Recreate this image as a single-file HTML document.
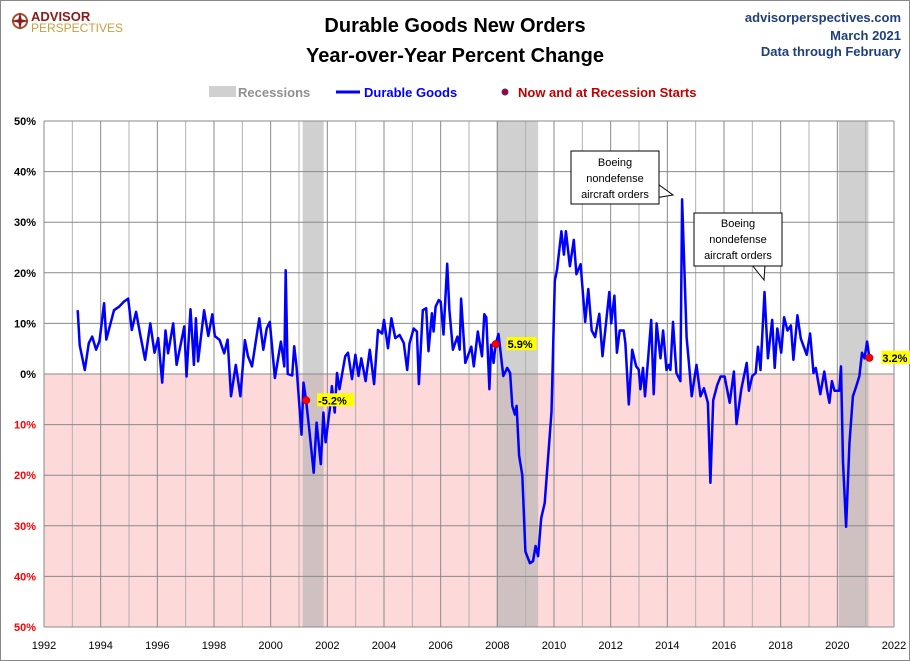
<!DOCTYPE html>
<html><head><meta charset="utf-8"><style>
body{margin:0;background:#fff;}
svg{display:block;font-family:"Liberation Sans",sans-serif;}
</style></head><body>
<svg id="chart" width="910" height="661" viewBox="0 0 910 661">
<rect x="0.5" y="0.5" width="909" height="660" fill="#fff" stroke="#888"/>
<g>
<circle cx="20" cy="21" r="7" fill="none" stroke="#a0522d" stroke-width="2"/>
<path d="M20 12 L22 21 L20 30 L18 21Z M11 21 L20 19 L29 21 L20 23Z" fill="#8b1a1a"/>
<text x="31" y="21" font-size="13" font-weight="bold" fill="#8b1a1a">ADVISOR</text>
<text x="31" y="32" font-size="12" fill="#c8a040">PERSPECTIVES</text>
</g>
<text x="455" y="32" text-anchor="middle" font-size="20" font-weight="bold" fill="#000">Durable Goods New Orders</text>
<text x="455" y="62" text-anchor="middle" font-size="20" font-weight="bold" fill="#000">Year-over-Year Percent Change</text>
<text x="901" y="22" text-anchor="end" font-size="13" font-weight="bold" fill="#1f3f7a">advisorperspectives.com</text>
<text x="901" y="40" text-anchor="end" font-size="13" font-weight="bold" fill="#1f3f7a">March 2021</text>
<text x="901" y="56" text-anchor="end" font-size="13" font-weight="bold" fill="#1f3f7a">Data through February</text>
<g>
<rect x="209" y="86" width="27" height="11" fill="#d0d0d0"/>
<text x="238" y="97" font-size="13" font-weight="bold" fill="#909090">Recessions</text>
<line x1="336" y1="92" x2="360" y2="92" stroke="#0000ff" stroke-width="3"/>
<text x="364" y="97" font-size="13" font-weight="bold" fill="#0000ff">Durable Goods</text>
<circle cx="505" cy="92" r="3" fill="#c00000" stroke="#3030c0"/>
<text x="518" y="97" font-size="13" font-weight="bold" fill="#c00000">Now and at Recession Starts</text>
</g>
<g id="plot"></g>
</svg>
<script>
const recStart=[2001.13,2007.97,2020.05];
const recEnd=[2001.87,2009.44,2021.1];
const yTicks=[50,40,30,20,10,0,-10,-20,-30,-40,-50];
const xTickYears=[1992,1994,1996,1998,2000,2002,2004,2006,2008,2010,2012,2014,2016,2018,2020,2022];
const dates=[1993.19,1993.26,1993.44,1993.58,1993.7,1993.84,1993.96,1994.12,1994.2,1994.47,1994.65,1994.82,1994.97,1995.1,1995.25,1995.4,1995.57,1995.75,1995.9,1996.03,1996.17,1996.29,1996.38,1996.56,1996.68,1996.95,1997.03,1997.17,1997.29,1997.36,1997.44,1997.65,1997.8,1997.94,1998.03,1998.2,1998.36,1998.48,1998.6,1998.77,1998.93,1999.09,1999.2,1999.34,1999.6,1999.74,1999.86,1999.97,2000.15,2000.36,2000.48,2000.53,2000.6,2000.76,2000.83,2000.91,2001.09,2001.16,2001.25,2001.37,2001.52,2001.62,2001.77,2001.86,2001.94,2002.1,2002.16,2002.26,2002.34,2002.43,2002.63,2002.73,2002.87,2002.99,2003.1,2003.2,2003.35,2003.5,2003.65,2003.79,2003.93,2004.0,2004.14,2004.26,2004.4,2004.55,2004.7,2004.82,2004.9,2005.05,2005.16,2005.23,2005.37,2005.49,2005.57,2005.69,2005.75,2005.82,2005.93,2006.0,2006.1,2006.23,2006.31,2006.43,2006.59,2006.67,2006.72,2006.87,2007.08,2007.17,2007.31,2007.46,2007.54,2007.61,2007.72,2007.78,2007.87,2007.94,2008.04,2008.21,2008.35,2008.45,2008.53,2008.62,2008.68,2008.77,2008.88,2008.99,2009.15,2009.26,2009.35,2009.44,2009.55,2009.67,2009.91,2010.03,2010.11,2010.26,2010.35,2010.42,2010.56,2010.7,2010.79,2010.94,2011.1,2011.21,2011.33,2011.45,2011.6,2011.71,2011.95,2012.02,2012.13,2012.22,2012.32,2012.46,2012.52,2012.64,2012.76,2012.9,2012.99,2013.05,2013.14,2013.21,2013.29,2013.43,2013.52,2013.62,2013.76,2013.85,2013.97,2014.05,2014.11,2014.2,2014.32,2014.46,2014.52,2014.68,2014.76,2014.86,2015.03,2015.17,2015.29,2015.43,2015.52,2015.62,2015.76,2015.88,2016.02,2016.2,2016.35,2016.44,2016.61,2016.8,2016.88,2017.0,2017.12,2017.2,2017.29,2017.43,2017.55,2017.7,2017.79,2017.88,2018.02,2018.12,2018.24,2018.36,2018.45,2018.59,2018.71,2018.92,2019.04,2019.16,2019.24,2019.4,2019.54,2019.64,2019.72,2019.81,2019.9,2020.07,2020.13,2020.2,2020.31,2020.43,2020.55,2020.67,2020.78,2020.87,2020.96,2021.05,2021.13];
const values=[12.6,5.7,0.8,6.1,7.4,4.8,6.5,14,6.8,12.6,13.3,14.3,14.9,8.7,12.3,7.7,2.8,10,4.2,7.1,-1.7,8.6,4.1,10,1.8,9.4,-0.5,12.8,1.8,11,2.5,12.6,7.5,11.8,7.5,6.7,4.1,6.8,-4.4,1.8,-4.4,6.7,3.5,1.5,11,4.8,9,10.3,-0.8,6.4,1.5,20.5,0,-0.3,5.5,1.5,-12,-1.7,-5.2,-11.4,-19.5,-9.6,-17.8,-7.6,-13.5,-6.3,-2.4,-7.6,0.2,-3,3.5,4.2,-1,3.8,-0.4,3.1,-1.4,4.8,-2,8.7,8,10.7,5.1,11,7.1,7.7,6.1,0.8,6,9,8.4,-2,12.6,13,4.5,12,8.4,13.3,14.6,14.3,7.8,21.8,12.6,4.8,7.4,4.8,14.9,2.2,5.4,1.5,8.4,3.5,11.8,11.2,-3,5.8,2.2,5.9,7.9,-0.4,1.2,0.2,-6.3,-8,-6.3,-16.1,-20,-35.1,-37.4,-37,-34,-36,-28.5,-25.5,-7.5,18.4,20.7,28.2,23.6,28.2,21.3,26.5,19.7,21.7,10.3,16.8,8.6,7.3,11.9,3.5,16.2,10,15.5,4.2,8.6,8.6,6,-6,4.8,1.5,0.9,-3,1.2,-4.4,0.8,10.7,-4,10,3.1,8.6,0.8,1.8,0.8,10.3,0.2,-1.4,34.5,7.3,2.2,-4.4,1.8,-4.4,-2.8,-5.7,-21.5,-5.2,-2.2,-0.5,-0.5,-5.7,0.5,-9.9,-3,2.2,-3.3,-0.4,0.2,5.4,0.8,16.2,3.1,10.7,1.2,9,4.2,11.2,8.6,9.6,2.8,11.6,7,3.8,8,0.2,1.2,-4,0.5,-3.3,-5.7,-1.4,-3.3,-3.3,1.5,-17.4,-30.2,-13.5,-4.4,-2.4,-0.4,4.2,3.1,6.4,3.2];
const dotDates=[2001.25,2007.94,2021.13];
const dotValues=[-5.2,5.9,3.2];
const dotLabels=["-5.2%","5.9%","3.2%"];

const L=44,R=894,T=121,B=627,X0=1992,X1=2022,YMAX=50,YMIN=-50;
const xs=d=>L+(d-X0)/(X1-X0)*(R-L);
const ys=v=>T+(YMAX-v)/(YMAX-YMIN)*(B-T);
const NS="http://www.w3.org/2000/svg";
const g=document.getElementById('plot');
function mk(tag,attrs,parent){const e=document.createElementNS(NS,tag);for(const k in attrs)e.setAttribute(k,attrs[k]);(parent||g).appendChild(e);return e;}

let e=mk('rect',{x:L,y:ys(0),width:R-L,height:B-ys(0),fill:'#fdd9d9'});


for(let i=0;i<recStart.length;i++){
  e=mk('rect',{x:xs(recStart[i]),y:T,width:xs(recEnd[i])-xs(recStart[i]),height:B-T,fill:'#b0b0b0','fill-opacity':0.6});
  
  
}
for(let yr=X0;yr<=X1;yr++){
  e=mk('line',{x1:xs(yr),x2:xs(yr),y1:T,y2:B,stroke:yr%2?'#b0b0b0':'#8a8a8a','stroke-width':1});
  
  
}
yTicks.forEach(v=>{
  e=mk('line',{x1:L,x2:R,y1:ys(v),y2:ys(v),stroke:'#8a8a8a','stroke-width':1});
  
  
  e=mk('text',{x:L-8,y:ys(v)+4,'text-anchor':'end','font-size':11,'font-weight':'bold',fill:v<0?'#ff0000':'#000'});
  e.textContent=Math.abs(v)+'%';
  
  
});
xTickYears.forEach(yr=>{
  e=mk('text',{x:xs(yr),y:B+22,'text-anchor':'middle','font-size':11,fill:'#000'});
  e.textContent=yr;
  
  
});
e=mk('polyline',{points:dates.map((d,i)=>xs(d).toFixed(1)+','+ys(values[i]).toFixed(1)).join(' '),fill:'none',stroke:'#0000ff','stroke-width':2.5,'stroke-linejoin':'round'});


dotDates.forEach((d,i)=>{
  const cx=xs(d),cy=ys(dotValues[i]);
  e=mk('circle',{cx:cx,cy:cy,r:3.5,fill:'#ff0000',stroke:'#cc0000'});
  
  
  const w=dotLabels[i].length*7+2;
  const lx=cx+(i==2?12:11);
  e=mk('rect',{x:lx,y:cy-7,width:w,height:13,fill:'#ffff00'});
  
  
  e=mk('text',{x:lx+1,y:cy+4,'font-size':11,'font-weight':'bold',fill:'#000'});
  e.textContent=dotLabels[i];
  
  
});
function callout(x,y,w,h,tail,name){
  const c=mk('g',{});
  
  
  mk('path',{d:tail,fill:'#fff',stroke:'#000','stroke-width':1},c);
  mk('rect',{x:x,y:y,width:w,height:h,fill:'#fff',stroke:'#000','stroke-width':1},c);
  return c;
}
let c1=callout(571,151,88,53,'M655 182 L673 195 L655 198Z','callout-boeing-2014');
mk('rect',{x:656,y:183,width:2,height:14,fill:'#fff'},c1);
["Boeing","nondefense","aircraft orders"].forEach((t,i)=>{const tx=mk('text',{x:615,y:166+i*16,'text-anchor':'middle','font-size':11,fill:'#000'},c1);tx.textContent=t;});
let c2=callout(694,213,88,53,'M752 265 L764 280 L765 265Z','callout-boeing-2017');
mk('rect',{x:753,y:263,width:11,height:2,fill:'#fff'},c2);
["Boeing","nondefense","aircraft orders"].forEach((t,i)=>{const tx=mk('text',{x:738,y:227+i*16,'text-anchor':'middle','font-size':11,fill:'#000'},c2);tx.textContent=t;});
</script>
</body></html>
